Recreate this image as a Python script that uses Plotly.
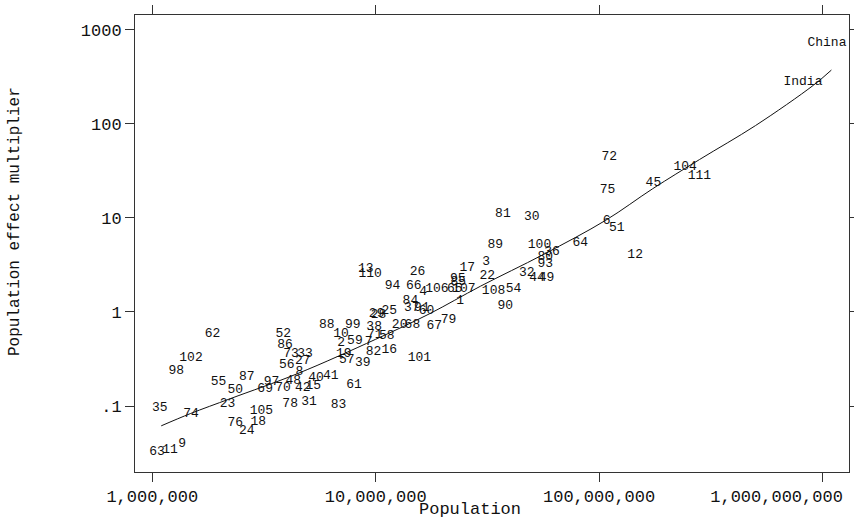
import plotly.graph_objects as go

# Country labels, population (millions), population effect multiplier
labels = ["72", "104", "111", "45", "75", "81", "30", "6", "51", "64",
          "100", "89", "12", "36", "80", "93", "3", "17", "22", "32",
          "44", "49", "26", "13", "110", "94", "66", "4", "106", "95",
          "85", "65", "107", "1", "108", "54", "90", "84", "37", "91",
          "60", "79", "67", "25", "29", "28", "20", "68", "38", "88",
          "99", "10", "71", "58", "2", "59", "7", "82", "16", "19",
          "57", "39", "101", "52", "86", "62", "73", "33", "56", "27",
          "102", "98", "8", "48", "55", "87", "50", "97", "69", "70",
          "42", "15", "40", "41", "61", "78", "31", "83", "35", "74",
          "23", "105", "76", "18", "24", "63", "11", "9", "China", "India"]
pop_millions = [111, 243, 281, 175, 109, 37.1, 50.0, 108, 120, 82.3,
                54.1, 34.3, 145, 61.5, 57.4, 57.4, 31.2, 25.7, 31.6, 47.5,
                52.7, 58.2, 15.4, 9.03, 9.44, 11.9, 14.8, 16.3, 18.8, 23.3,
                23.4, 22.6, 24.8, 23.9, 33.7, 41.4, 38.0, 14.3, 14.5, 16.1,
                16.9, 21.2, 18.3, 11.5, 10.1, 10.3, 12.8, 14.6, 9.84, 6.04,
                7.90, 7.00, 9.9, 11.2, 7.0, 8.07, 9.3, 9.77, 11.5, 7.2,
                7.42, 8.75, 15.7, 3.86, 3.93, 1.86, 4.18, 4.83, 4.00, 4.72,
                1.49, 1.28, 4.55, 4.28, 1.98, 2.65, 2.35, 3.42, 3.20, 3.85,
                4.72, 5.26, 5.41, 6.30, 8.00, 4.14, 5.03, 6.81, 1.08, 1.49,
                2.17, 3.08, 2.35, 2.98, 2.65, 1.05, 1.20, 1.36, 1047, 818]
multiplier = [45.1, 34.7, 27.7, 23.5, 20.0, 11.0, 10.4, 9.43, 7.89, 5.41,
              5.12, 5.12, 4.01, 4.35, 3.85, 3.22, 3.40, 2.97, 2.40, 2.58,
              2.30, 2.30, 2.67, 2.90, 2.56, 1.88, 1.88, 1.64, 1.78, 2.27,
              2.07, 1.78, 1.75, 1.33, 1.70, 1.75, 1.16, 1.33, 1.11, 1.11,
              1.02, 0.818, 0.712, 1.03, 0.95, 0.93, 0.724, 0.724, 0.695, 0.737,
              0.737, 0.591, 0.58, 0.553, 0.466, 0.490, 0.478, 0.377, 0.400, 0.36,
              0.308, 0.288, 0.325, 0.591, 0.444, 0.591, 0.363, 0.363, 0.272, 0.300,
              0.329, 0.235, 0.232, 0.186, 0.181, 0.205, 0.148, 0.181, 0.152, 0.155,
              0.155, 0.163, 0.202, 0.208, 0.167, 0.107, 0.111, 0.1025, 0.097, 0.0836,
              0.105, 0.0885, 0.0665, 0.0681, 0.0543, 0.0327, 0.0341, 0.0395, 719, 277]

# Fitted curve
curve_pop_millions = [1.096, 1.479, 2.239, 4.467, 10.0, 17.38, 29.51, 56.23,
                      107.2, 173.8, 281.8, 501.2, 912, 1096]
curve_multiplier = [0.0617, 0.0832, 0.1202, 0.2213, 0.5129, 0.955, 1.884, 4.074,
                    9.441, 20.4, 41.7, 95.5, 257, 371.5]

x_tick_vals = [1e6, 1e7, 1e8, 1e9]
x_tick_text = ["1,000,000", "10,000,000", "100,000,000",
               "1,000,000,000" + "\u00a0" * 9]
y_tick_vals = [0.1, 1, 10, 100, 1000]
y_tick_text = [".1", "1", "10", "100", "1000"]

FONT = "Liberation Mono"

fig = go.Figure()
fig.add_trace(go.Scatter(
    x=[p * 1e6 for p in curve_pop_millions], y=curve_multiplier,
    mode="lines", line=dict(color="#111111", width=1, shape="spline"),
    hoverinfo="skip", showlegend=False))
fig.add_trace(go.Scatter(
    x=[p * 1e6 for p in pop_millions], y=multiplier, text=labels,
    mode="text", textposition="middle center",
    textfont=dict(family=FONT, size=13, color="#111111"),
    showlegend=False))

axis_common = dict(showgrid=False, zeroline=False, showline=True,
                   linecolor="#333333", linewidth=1, mirror="ticks",
                   ticks="outside", ticklen=9, tickcolor="#333333",
                   automargin=False, ticklabeloverflow="allow",
                   tickfont=dict(family=FONT, size=17, color="#111111"))

fig.update_xaxes(type="log", range=[5.9225, 9.1187], tickmode="array",
                 tickvals=x_tick_vals, ticktext=x_tick_text, **axis_common)
fig.update_yaxes(type="log", range=[-1.70, 3.155], tickmode="array",
                 tickvals=y_tick_vals, ticktext=y_tick_text, **axis_common)

fig.update_layout(
    width=854, height=520,
    margin=dict(l=135, r=5, t=15, b=48, autoexpand=False),
    plot_bgcolor="white", paper_bgcolor="white",
    annotations=[
        dict(text="Population", xref="paper", yref="paper", x=0.469, y=-0.083,
             xanchor="center", yanchor="middle", showarrow=False,
             font=dict(family=FONT, size=17, color="#111111")),
        dict(text="Population effect multiplier", xref="paper", yref="paper",
             x=-0.168, y=0.547, xanchor="center", yanchor="middle",
             textangle=-90, showarrow=False,
             font=dict(family=FONT, size=16, color="#111111")),
    ],
)

fig.write_html("out.html", config={"displayModeBar": False},
               post_script="document.body.style.margin='0';"
                           "document.body.style.overflow='hidden';")
